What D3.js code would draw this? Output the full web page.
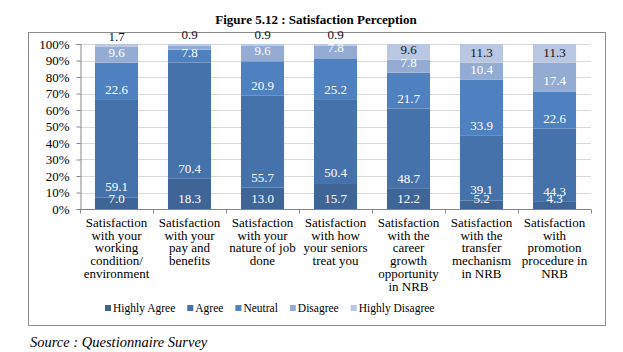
<!DOCTYPE html>
<html>
<head>
<meta charset="utf-8">
<script src="https://cdn.jsdelivr.net/npm/d3@7"></script>
<style>
  body { margin: 0; background: #fff; }
  svg text { font-family: 'Liberation Serif', 'Times New Roman', Times, Tinos, serif; }
</style>
</head>
<body>
<div id="graph"></div>
<script>
var categories = ['working', 'pay', 'nature', 'seniors', 'career', 'transfer', 'promotion']
var categoryLines = [
  ['Satisfaction', 'with your', 'working', 'condition/', 'environment'],
  ['Satisfaction', 'with your', 'pay and', 'benefits'],
  ['Satisfaction', 'with your', 'nature of job', 'done'],
  ['Satisfaction', 'with how', 'your seniors', 'treat you'],
  ['Satisfaction', 'with the', 'career', 'growth', 'opportunity', 'in NRB'],
  ['Satisfaction', 'with the', 'transfer', 'mechanism', 'in NRB'],
  ['Satisfaction', 'with', 'promotion', 'procedure in', 'NRB']
]
var seriesNames = ['Highly Agree', 'Agree', 'Neutral', 'Disagree', 'Highly Disagree']
var highlyAgree    = [7.0, 18.3, 13.0, 15.7, 12.2, 5.2, 4.3]
var agree          = [59.1, 70.4, 55.7, 50.4, 48.7, 39.1, 44.3]
var neutral        = [22.6, 7.8, 20.9, 25.2, 21.7, 33.9, 22.6]
var disagree       = [9.6, 2.6, 9.6, 7.8, 7.8, 10.4, 17.4]
var highlyDisagree = [1.7, 0.9, 0.9, 0.9, 9.6, 11.3, 11.3]
var yTicks = [0, 10, 20, 30, 40, 50, 60, 70, 80, 90, 100]

var serif = "'Liberation Serif', 'Times New Roman', Times, serif"
var colors = ['#3f6597', '#4672ab', '#4f80c0', '#94acd4', '#b9c7e3']
var labelColors = ['#fff', '#fff', '#fff', '#fff', '#111']
var valuesBySeries = [highlyAgree, agree, neutral, disagree, highlyDisagree]

var rows = categories.map((c, i) => {
  var r = {key: c, i}
  seriesNames.forEach((s, si) => r[s] = valuesBySeries[si][i])
  return r
})

var series = d3.stack().keys(seriesNames).offset(d3.stackOffsetExpand)(rows)

var svg = d3.select('#graph').append('svg')
  .attr('width', 623).attr('height', 352)
  .attr('font-family', serif)

svg.append('text')
  .text('Figure 5.12 : Satisfaction Perception')
  .attr('x', 316).attr('y', 24)
  .attr('text-anchor', 'middle')
  .attr('font-size', 13).attr('font-weight', 'bold')

svg.append('rect')
  .attr('x', 28.5).attr('y', 32.5).attr('width', 577).attr('height', 293)
  .attr('fill', 'none').attr('stroke', '#8c8c8c')

var x = d3.scaleBand()
  .domain(categories)
  .range([80, 591])
  .paddingInner(0.41)
  .paddingOuter(0.205)

var y = d3.scaleLinear().domain([0, 1]).range([209, 44])

// gridlines
svg.append('g')
  .selectAll('line').data(yTicks.slice(1)).join('line')
  .attr('x1', 80).attr('x2', 591)
  .attr('y1', d => Math.round(y(d / 100)) + .5)
  .attr('y2', d => Math.round(y(d / 100)) + .5)
  .attr('stroke', '#d9d9d9')

// y axis
var yAxis = d3.axisLeft(y)
  .tickValues(yTicks.map(d => d / 100))
  .tickFormat(d => Math.round(d * 100) + '%')
  .tickSize(4).tickPadding(7)
var yG = svg.append('g').attr('transform', 'translate(80.5,0)').call(yAxis)
yG.attr('font-family', serif).attr('font-size', 13)
yG.selectAll('path, line').attr('stroke', '#868686')
yG.selectAll('text').attr('fill', '#000')

// bars
svg.append('g')
  .selectAll('g').data(series).join('g')
  .attr('fill', (d, i) => colors[i])
  .selectAll('rect').data(d => d).join('rect')
  .attr('x', d => x(d.data.key))
  .attr('width', x.bandwidth())
  .attr('y', d => y(d[1]))
  .attr('height', d => y(d[0]) - y(d[1]))

// x axis
var xAxisG = svg.append('g').attr('transform', 'translate(0,209.5)')
xAxisG.append('line').attr('x1', 80).attr('x2', 591).attr('stroke', '#868686')
var bounds = categories.map(c => x(c) - x.step() * x.paddingInner() / 2).concat(591)
xAxisG.selectAll('line.tick').data(bounds).join('line')
  .attr('class', 'tick')
  .attr('x1', d => Math.round(d) + .5).attr('x2', d => Math.round(d) + .5)
  .attr('y1', 0).attr('y2', 4)
  .attr('stroke', '#868686')

// data labels sit at the base of each segment, as in the source chart
var labelG = svg.append('g')
  .attr('font-size', 13).attr('text-anchor', 'middle')
series.forEach((s, si) => {
  var vals = valuesBySeries[si]
  var isTop = si == seriesNames.length - 1
  labelG.append('g').selectAll('text')
    .data(s.filter(d => vals[d.data.i] >= 3 || isTop))
    .join('text')
    .attr('x', d => x(d.data.key) + x.bandwidth() / 2)
    .attr('y', d => y(d[0]) - 6)
    .attr('fill', labelColors[si])
    .text(d => vals[d.data.i].toFixed(1))
})

// category labels
svg.append('g').selectAll('text').data(categories).join('text')
  .attr('font-size', 13).attr('text-anchor', 'middle')
  .attr('transform', d => `translate(${x(d) + x.bandwidth() / 2},227)`)
  .each(function(d, i){
    d3.select(this).selectAll('tspan').data(categoryLines[i]).join('tspan')
      .attr('x', 0).attr('y', (l, j) => j * 12.7)
      .text(l => l)
  })

// legend
var legendG = svg.append('g').attr('transform', 'translate(105,312)')
var lx = 0
seriesNames.forEach((name, i) => {
  var g = legendG.append('g').attr('transform', `translate(${lx},0)`)
  g.append('rect').attr('x', 0).attr('y', -7).attr('width', 6).attr('height', 6)
    .attr('fill', colors[i])
  var t = g.append('text').attr('x', 8).attr('font-size', 11.5).text(name)
  lx += 8 + t.node().getComputedTextLength() + 12
})

svg.append('text')
  .text('Source : Questionnaire Survey')
  .attr('x', 30).attr('y', 347)
  .attr('font-size', 14.5).attr('font-style', 'italic')
</script>
</body>
</html>
